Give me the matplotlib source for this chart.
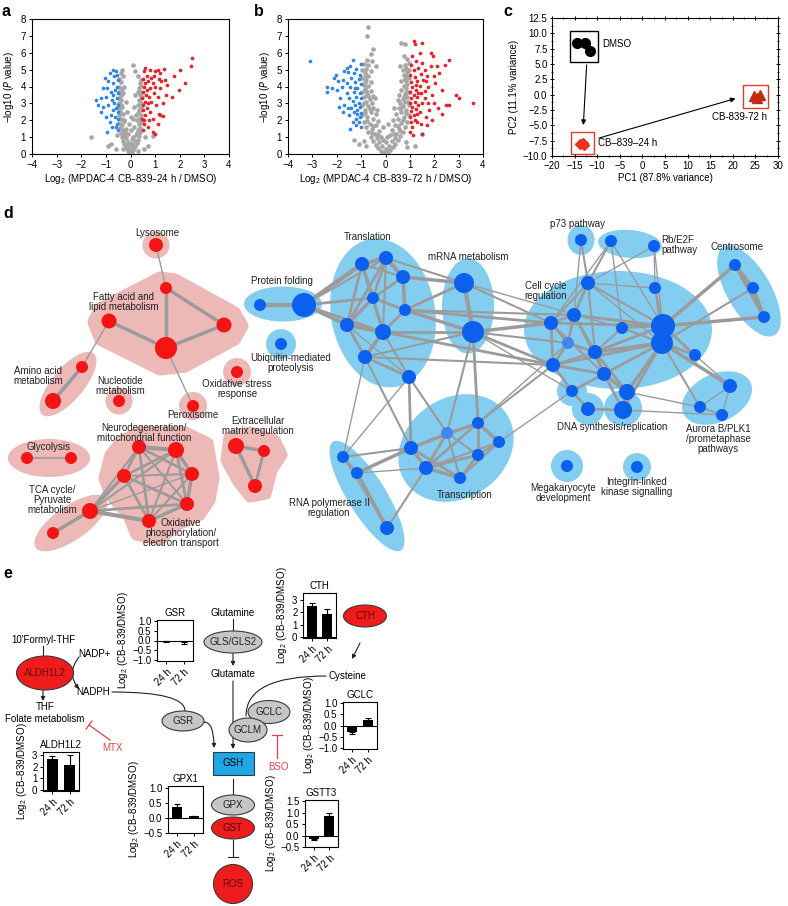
import numpy as np
import matplotlib
matplotlib.use('Agg')
import matplotlib.pyplot as plt
from matplotlib.patches import Ellipse, Circle, Polygon, Rectangle, FancyArrowPatch
from matplotlib.ticker import AutoMinorLocator

plt.rcParams['font.family'] = ['Liberation Sans', 'DejaVu Sans']
plt.rcParams['font.size'] = 7
plt.rcParams['axes.linewidth'] = 0.8
plt.rcParams['mathtext.default'] = 'regular'
plt.rcParams['xtick.major.size'] = 2.5
plt.rcParams['ytick.major.size'] = 2.5
plt.rcParams['xtick.major.width'] = 0.7
plt.rcParams['ytick.major.width'] = 0.7

### Data: volcano plots (log2 fold change, -log10 P) ###
a_gray = [(0, 0.05), (-0.05, 0.1), (0.05, 0.15), (-0.1, 0.2), (0.1, 0.25), (-0.15, 0.3), (0.15, 0.35), (0, 0.3),
          (-0.2, 0.45), (0.2, 0.5), (-0.05, 0.5), (0.08, 0.6), (-0.25, 0.6), (0.25, 0.65), (-0.12, 0.7), (0.18, 0.8),
          (-0.3, 0.8), (0.3, 0.85), (-0.2, 0.95), (0.05, 0.9), (-0.35, 1.0), (0.35, 1.05), (-0.25, 1.15), (0.22, 1.15),
          (-0.4, 1.25), (0.38, 1.3), (-0.3, 1.4), (0.3, 1.4), (-0.42, 1.55), (0.4, 1.55), (-0.18, 1.5), (0.15, 1.6),
          (-0.35, 1.7), (0.33, 1.75), (-0.45, 1.85), (0.42, 1.9), (-0.28, 1.95), (0.25, 2.0), (-0.4, 2.1), (0.38, 2.15),
          (-0.45, 2.3), (0.44, 2.3), (-0.32, 2.35), (0.3, 2.45), (-0.42, 2.55), (0.4, 2.6), (-0.47, 2.75), (0.44, 2.75),
          (-0.35, 2.8), (0.32, 2.9), (-0.45, 3.0), (0.42, 3.05), (-0.38, 3.2), (0.36, 3.2), (-0.48, 3.3), (0.45, 3.35),
          (-0.4, 3.5), (0.4, 3.5), (-0.45, 3.7), (0.43, 3.7), (-0.35, 3.85), (0.35, 3.9), (-0.47, 4.0), (0.42, 4.05),
          (-0.4, 4.25), (0.38, 4.2), (-0.45, 4.45), (0.44, 4.4), (-0.3, 4.6), (0.3, 4.6), (-0.4, 4.8), (-0.35, 5.0),
          (0.1, 5.3), (0.2, 4.9), (-1.6, 1.0), (-0.8, 0.6), (0.7, 0.5), (-0.6, 0.3), (0.55, 0.3), (0.6, 1.0),
          (-0.55, 1.1), (0.9, 1.05), (-0.9, 0.5), (0, 0.6), (0.12, 1.0), (-0.1, 1.2), (0.02, 1.4), (-0.08, 1.8),
          (0.1, 2.1), (-0.15, 2.5), (0.15, 2.8), (-0.2, 3.1), (0.2, 3.5), (-0.25, 4.0), (0.0, 2.2), (0.05, 0.0),
          (-0.02, 0.2), (0.1, 0.4), (-0.1, 0.45), (-0.3, 0.3), (0.3, 0.2), (-0.22, 1.3), (0.28, 1.25), (-0.38, 2.9),
          (0.36, 2.6), (-0.3, 3.6), (0.3, 3.7), (-0.25, 2.0), (0.22, 2.3)]
a_red = [(0.5, 1.4), (0.55, 1.8), (0.48, 2.1), (0.6, 2.3), (0.52, 2.6), (0.65, 2.7), (0.5, 2.9), (0.58, 3.1),
         (0.7, 3.0), (0.48, 3.3), (0.62, 3.5), (0.75, 3.4), (0.5, 3.7), (0.68, 3.8), (0.55, 4.0), (0.8, 3.9),
         (0.6, 4.2), (0.72, 4.3), (0.5, 4.45), (0.85, 4.5), (0.65, 4.6), (0.9, 4.2), (0.78, 2.5), (0.85, 3.1),
         (0.95, 3.6), (1.0, 4.0), (0.9, 2.1), (1.05, 2.9), (1.1, 3.4), (1.2, 3.9), (0.7, 1.6), (0.9, 1.3),
         (1.15, 2.4), (1.2, 2.3), (1.3, 2.25), (1.3, 3.0), (1.45, 3.5), (1.0, 4.9), (1.1, 5.0), (1.2, 4.8),
         (1.25, 4.3), (1.35, 5.05), (0.8, 5.0), (0.6, 5.1), (0.55, 4.9), (1.4, 4.4), (1.5, 4.1), (1.75, 4.65),
         (1.95, 3.8), (2.0, 5.0), (2.2, 4.2), (2.45, 5.2), (2.5, 5.7), (1.7, 3.4), (1.1, 1.8), (1.0, 1.2),
         (0.75, 2.0), (0.95, 4.6), (1.15, 4.45), (0.55, 2.0)]
a_blue = [(-0.5, 1.4), (-0.55, 1.8), (-0.5, 2.1), (-0.62, 2.2), (-0.5, 2.5), (-0.58, 2.7), (-0.7, 2.6), (-0.5, 2.9),
          (-0.65, 3.0), (-0.55, 3.3), (-0.75, 3.2), (-0.5, 3.6), (-0.62, 3.8), (-0.8, 3.7), (-0.55, 4.0), (-0.7, 4.2),
          (-0.5, 4.4), (-0.65, 4.6), (-0.85, 4.8), (-0.6, 4.9), (-0.9, 4.3), (-0.8, 2.3), (-0.9, 2.9), (-1.0, 3.4),
          (-1.1, 3.9), (-0.85, 1.9), (-1.0, 2.2), (-1.1, 2.8), (-1.2, 3.3), (-1.4, 3.2), (-1.05, 4.5), (-0.75, 1.6),
          (-0.95, 1.3), (-0.6, 1.6), (-1.2, 2.5), (-0.7, 3.5), (-0.95, 3.9), (-0.55, 4.7), (-0.72, 4.95), (-1.3, 2.9)]

b_gray = [(0, 0.05), (-0.1, 0.1), (0.1, 0.12), (-0.2, 0.2), (0.2, 0.25), (0, 0.3), (-0.3, 0.35), (0.3, 0.4),
          (-0.15, 0.45), (0.15, 0.5), (-0.4, 0.55), (0.4, 0.6), (-0.25, 0.7), (0.28, 0.75), (-0.5, 0.8), (0.5, 0.85),
          (0, 0.7), (-0.35, 0.95), (0.38, 0.95), (-0.6, 1.0), (0.6, 1.05), (0.05, 1.0), (-0.1, 0.85),
          (-0.45, 1.2), (0.45, 1.2), (-0.7, 1.3), (0.7, 1.3), (-0.25, 1.35), (0.25, 1.4), (-0.55, 1.5), (0.55, 1.5),
          (-0.8, 1.6), (0.8, 1.6), (-0.4, 1.7), (0.4, 1.7), (-0.65, 1.8), (0.65, 1.85), (-0.9, 1.9), (0.9, 1.9),
          (-0.3, 1.95), (0.3, 2.0), (-0.1, 1.6), (0.1, 1.8),
          (-0.5, 2.1), (0.5, 2.1), (-0.75, 2.2), (0.75, 2.2), (-0.95, 2.3), (0.95, 2.3), (-0.4, 2.4), (0.45, 2.4),
          (-0.6, 2.5), (0.62, 2.5), (-0.85, 2.6), (0.85, 2.6), (-0.5, 2.75), (0.55, 2.75), (-0.7, 2.85), (0.72, 2.85),
          (-0.95, 2.9), (0.95, 2.9), (-0.35, 2.6), (0.35, 2.7),
          (-0.55, 3.05), (0.6, 3.05), (-0.8, 3.1), (0.8, 3.1), (-0.65, 3.25), (0.7, 3.25), (-0.9, 3.35), (0.9, 3.35),
          (-0.5, 3.45), (0.55, 3.5), (-0.75, 3.55), (0.78, 3.55), (-0.95, 3.65), (0.95, 3.65), (-0.6, 3.75), (0.65, 3.8),
          (-0.85, 3.85), (0.85, 3.9), (-0.45, 3.3), (0.5, 3.2),
          (-0.7, 4.05), (0.75, 4.05), (-0.9, 4.1), (0.9, 4.15), (-0.6, 4.25), (0.65, 4.3), (-0.8, 4.4), (0.82, 4.45),
          (-0.95, 4.5), (0.95, 4.5), (-0.7, 4.65), (0.75, 4.7), (-0.85, 4.8), (0.88, 4.85), (-0.6, 4.9), (0.7, 4.95),
          (-0.8, 5.05), (0.85, 5.1), (-0.7, 5.3), (0.8, 5.3), (-0.9, 5.35), (0.95, 5.4), (-0.55, 5.5), (-0.75, 5.6),
          (0.9, 5.65), (-0.6, 5.9), (0.75, 5.8), (-0.5, 6.2), (0.65, 6.6), (0.8, 6.5), (-0.75, 7.0), (-0.7, 7.5),
          (-0.4, 5.2), (0.6, 5.2), (-0.9, 0.75), (0.85, 0.7), (1.5, 1.2), (-1.3, 0.85), (-1.1, 0.6), (1.2, 0.5),
          (-0.8, 0.5), (0.9, 0.4), (-0.2, 1.0), (0.2, 1.1), (-0.55, 1.25), (0.6, 1.35), (-0.75, 1.95), (0.7, 2.0),
          (-0.85, 2.45), (0.85, 2.45), (-0.65, 2.65), (0.65, 2.7), (-0.9, 3.05), (0.92, 3.1), (-0.7, 3.45),
          (0.75, 3.4), (-0.8, 3.75), (0.85, 3.7), (-0.85, 4.25), (0.85, 4.3), (-0.8, 4.6), (0.85, 4.65),
          (-0.95, 4.95), (0.95, 5.0), (-0.3, 1.15), (0.35, 1.2), (-0.5, 1.65), (0.5, 1.65)]
b_red = [(1.02, 1.3), (1.1, 1.6), (1.05, 1.9), (1.2, 2.0), (1.0, 2.2), (1.15, 2.3), (1.3, 2.4), (1.05, 2.55),
         (1.25, 2.65), (1.4, 2.5), (1.1, 2.8), (1.35, 2.9), (1.0, 3.0), (1.2, 3.1), (1.5, 3.0), (1.05, 3.3),
         (1.3, 3.35), (1.6, 3.3), (1.15, 3.5), (1.45, 3.6), (1.0, 3.7), (1.25, 3.8), (1.6, 3.75), (1.1, 4.0),
         (1.4, 4.05), (1.75, 4.0), (1.05, 4.25), (1.3, 4.3), (1.55, 4.4), (1.2, 4.55), (1.0, 4.7), (1.45, 4.75),
         (1.7, 4.6), (1.15, 4.95), (1.35, 5.1), (1.6, 5.0), (1.05, 5.3), (1.25, 5.5), (1.5, 5.4), (1.85, 5.2),
         (1.1, 5.8), (1.4, 6.0), (1.2, 6.5), (1.15, 6.7), (1.5, 6.6), (1.85, 6.0), (1.95, 5.8), (2.1, 5.2),
         (2.2, 4.8), (2.05, 4.2), (2.3, 3.8), (1.9, 3.5), (2.0, 3.0), (2.15, 2.7), (1.8, 2.6), (1.65, 2.2),
         (1.9, 2.0), (2.3, 2.4), (2.5, 2.9), (2.45, 5.3), (2.6, 5.6), (2.9, 3.5), (3.0, 3.3), (3.6, 3.0),
         (2.6, 2.9), (1.7, 1.7), (1.5, 1.2), (1.3, 1.9), (1.75, 3.0), (2.0, 4.6), (1.12, 1.1), (1.35, 3.6),
         (1.25, 4.1), (1.65, 4.3), (1.45, 1.8)]
b_blue = [(-1.02, 1.6), (-1.1, 1.9), (-1.05, 2.2), (-1.2, 2.1), (-1.0, 2.45), (-1.15, 2.6), (-1.3, 2.5), (-1.05, 2.8),
          (-1.25, 2.9), (-1.4, 2.75), (-1.1, 3.05), (-1.35, 3.15), (-1.0, 3.3), (-1.2, 3.4), (-1.5, 3.3), (-1.05, 3.6),
          (-1.3, 3.7), (-1.6, 3.6), (-1.15, 3.9), (-1.45, 4.0), (-1.0, 4.15), (-1.25, 4.25), (-1.6, 4.2), (-1.1, 4.45),
          (-1.4, 4.5), (-1.75, 4.4), (-1.05, 4.7), (-1.3, 4.8), (-1.55, 4.85), (-1.2, 5.05), (-1.45, 5.2), (-1.35, 5.55),
          (-1.0, 5.35), (-1.8, 4.0), (-1.95, 4.3), (-2.0, 3.8), (-1.85, 3.3), (-2.1, 4.5), (-2.2, 3.9), (-2.4, 4.0),
          (-2.4, 3.7), (-1.9, 2.8), (-1.7, 2.9), (-1.75, 2.5), (-1.5, 2.3), (-1.35, 1.9), (-1.45, 1.5), (-1.2, 1.7),
          (-3.1, 5.5), (-1.6, 5.1), (-1.7, 4.9), (-2.05, 4.7), (-1.15, 2.35), (-1.55, 2.7), (-1.25, 3.9)]

### Data: PCA ###
dmso_pc1 = [-14.4, -12.8, -11.7]
dmso_pc2 = [8.4, 8.4, 7.1]
h24_pc1 = [-13.7, -13.2, -12.9]
h24_pc2 = [-8.0, -7.8, -8.2]
h72_pc1 = [24.8, 26.1, 25.3]
h72_pc2 = [-0.2, 0.0, -0.5]

### Data: network (positions in figure pixels) ###
node_x = [156, 166, 109, 224, 166, 82, 53, 119, 237, 193, 236, 264, 255, 27, 71, 90, 53, 139, 176, 124, 192, 187, 149,
          260, 304, 281, 386, 362, 347, 383, 373, 365, 403, 405, 409, 464, 473,
          588, 655, 663, 662, 551, 574, 622, 568, 595, 695, 553, 604, 572, 627, 588, 623,
          581, 611, 654, 735, 753, 764, 730, 700, 722,
          478, 499, 478, 447, 411, 426, 460, 343, 357, 387, 567, 637]
node_y = [245, 288, 321, 325, 348, 367, 401, 401, 372, 406, 446, 451, 486, 458, 458, 511, 533, 447, 450, 476, 474, 504, 521,
          305, 305, 344, 258, 264, 325, 332, 298, 357, 277, 310, 377, 283, 332,
          283, 288, 326, 343, 323, 315, 328, 343, 352, 355, 365, 374, 391, 392, 409, 410,
          240, 241, 246, 265, 288, 317, 386, 407, 415,
          423, 442, 455, 433, 448, 468, 478, 457, 473, 528, 466, 467]
node_r = [7, 6, 7.5, 7.5, 11, 6, 8, 6, 6, 6, 8, 6, 7, 6, 6, 8, 6, 7, 8, 7, 7, 7, 7,
          6, 12, 6, 7, 7, 7, 8, 6, 7, 7, 6, 7, 10, 11,
          7, 6, 12, 11, 7, 7, 6, 6, 7, 6, 7, 7, 6, 8, 7, 9,
          6, 6, 6, 6, 6, 6, 7, 6, 6,
          6, 6, 6, 6, 7, 7, 6, 6, 6, 7, 6, 6]
node_group = ['up'] * 23 + ['down'] * 51
light_nodes = [44, 65]

edges = [(0, 1, 1), (1, 4, 2.5), (1, 3, 2.5), (2, 4, 2.5), (3, 4, 2.5), (2, 5, 1), (4, 9, 1), (5, 6, 2.5),
         (13, 14, 1.2), (15, 16, 2.5), (10, 11, 2.5), (10, 12, 2.5), (11, 12, 2),
         (17, 18, 3), (17, 19, 2), (17, 20, 2), (17, 21, 1.5), (17, 22, 2), (17, 15, 1.5), (18, 19, 2), (18, 20, 2.5),
         (18, 21, 2), (18, 22, 1.5), (18, 15, 1.5), (19, 20, 1.5), (19, 21, 2), (19, 22, 2), (19, 15, 2.5),
         (20, 21, 2.5), (20, 22, 1.5), (20, 15, 1), (21, 22, 2.5), (21, 15, 2), (22, 15, 3),
         (26, 27, 3), (26, 30, 2), (26, 32, 3), (26, 28, 2), (27, 30, 2.5), (27, 28, 2), (27, 29, 2), (28, 29, 3),
         (28, 30, 2.5), (28, 31, 2), (29, 30, 2), (29, 31, 2.5), (29, 33, 2), (30, 32, 2), (30, 33, 2), (31, 34, 2),
         (32, 33, 2.5), (26, 29, 1.5), (27, 32, 1.5), (29, 34, 1.5), (28, 34, 1),
         (23, 24, 3), (24, 27, 3), (24, 28, 2.5), (24, 30, 2), (24, 29, 2), (24, 26, 1.5),
         (32, 35, 2.5), (33, 35, 2), (29, 36, 2), (33, 36, 2.5), (26, 35, 1.5), (31, 36, 1.5), (35, 36, 3),
         (36, 41, 2.5), (36, 47, 2), (35, 41, 1.5), (33, 41, 2), (29, 47, 2), (31, 47, 1.5), (36, 44, 1.5),
         (33, 42, 1.5), (35, 43, 1), (36, 49, 1),
         (37, 38, 1), (37, 39, 1.5), (37, 41, 1.5), (37, 42, 2), (37, 45, 1.5), (37, 40, 1), (38, 39, 1.5),
         (38, 40, 1), (39, 40, 3), (39, 41, 2), (39, 42, 2), (39, 43, 1.5), (39, 45, 2), (39, 46, 2), (40, 45, 2.5),
         (40, 47, 2), (40, 48, 2), (40, 50, 2.5), (40, 52, 2), (40, 46, 2), (41, 42, 2), (41, 44, 2), (41, 47, 2),
         (42, 44, 2), (42, 45, 2), (43, 45, 1.5), (43, 40, 1.5), (44, 45, 2), (44, 47, 2), (45, 48, 2), (45, 50, 2),
         (47, 48, 2), (47, 49, 2), (48, 50, 2.5), (48, 49, 2), (49, 51, 2), (50, 52, 3), (51, 52, 2), (48, 52, 2),
         (45, 47, 1.5), (41, 48, 1.5), (42, 48, 1.5),
         (53, 37, 1.5), (53, 42, 1),
         (54, 37, 1.5), (54, 39, 1), (54, 43, 1), (55, 37, 1), (55, 38, 1), (55, 39, 1), (54, 41, 1),
         (56, 57, 2.5), (57, 58, 2.5), (56, 58, 2.5), (56, 39, 2.5), (58, 39, 2.5), (57, 40, 1.5),
         (59, 60, 1), (59, 61, 1), (60, 61, 1.5), (59, 40, 2.5), (60, 40, 1.5), (61, 52, 1), (59, 46, 1), (60, 50, 1),
         (62, 63, 2.5), (62, 64, 2), (62, 65, 1.5), (62, 66, 2), (62, 67, 2), (63, 64, 2), (63, 68, 1.5),
         (64, 65, 1.5), (64, 67, 2), (64, 68, 2), (65, 66, 2), (65, 67, 2), (65, 68, 1.5), (66, 67, 2.5),
         (66, 68, 2), (67, 68, 2.5), (63, 67, 1.5),
         (36, 62, 2), (36, 65, 1.5), (34, 66, 2), (34, 65, 1.5), (31, 66, 1.5),
         (62, 47, 1.5), (63, 49, 1), (62, 44, 1),
         (66, 70, 2.5), (67, 71, 1.5), (66, 69, 1.5), (67, 70, 1), (69, 70, 2), (70, 71, 2.5), (69, 71, 1),
         (31, 69, 1), (34, 69, 1)]

# cluster ellipses: (cx, cy, width, height, angle, group)
cluster_ellipses = [(156, 245, 27, 27, 0, 'up'), (68, 384, 80, 32, -50, 'up'), (119, 401, 27, 27, 0, 'up'),
                    (237, 372, 28, 28, 0, 'up'), (193, 406, 28, 28, 0, 'up'), (49, 458, 82, 38, 0, 'up'),
                    (71, 523, 86, 34, -35, 'up'),
                    (283, 304, 78, 35, 0, 'down'), (281, 344, 30, 30, 0, 'down'), (383, 313, 104, 150, -10, 'down'),
                    (468, 306, 52, 95, 0, 'down'), (618, 330, 188, 118, 0, 'down'), (572, 391, 30, 30, 0, 'down'),
                    (588, 409, 32, 32, 0, 'down'), (623, 408, 38, 36, 0, 'down'), (581, 240, 27, 30, 0, 'down'),
                    (630, 244, 64, 28, 5, 'down'), (749, 291, 102, 44, 60, 'down'), (717, 398, 74, 48, -25, 'down'),
                    (456, 448, 122, 100, -35, 'down'), (367, 496, 128, 38, 58, 'down'), (567, 466, 32, 32, 0, 'down'),
                    (637, 467, 28, 28, 0, 'down')]
cluster_blobs = [
    [(160, 277), (175, 279), (235, 312), (243, 326), (235, 340), (185, 367), (160, 370), (100, 340), (93, 322), (100, 308)],
    [(229, 437), (250, 432), (275, 440), (282, 455), (272, 470), (266, 494), (250, 497), (238, 482), (226, 460)],
    [(122, 440), (140, 432), (185, 432), (208, 443), (214, 478), (210, 500), (200, 515), (176, 526), (160, 540),
     (136, 535), (128, 515), (110, 495), (104, 478), (110, 455)]]

net_labels = [("Lysosome", 157, 233), ("Fatty acid and\nlipid metabolism", 124, 302),
              ("Amino acid\nmetabolism", 38, 376), ("Nucleotide\nmetabolism", 120, 386),
              ("Oxidative stress\nresponse", 237, 389), ("Peroxisome", 193, 415),
              ("Neurodegeneration/\nmitochondrial function", 144, 433), ("Extracellular\nmatrix regulation", 258, 426),
              ("Glycolysis", 49, 447), ("TCA cycle/\nPyruvate\nmetabolism", 52, 500),
              ("Oxidative\nphosphorylation/\nelectron transport", 181, 533),
              ("Protein folding", 282, 281), ("Ubiquitin-mediated\nproteolysis", 291, 363), ("Translation", 368, 237),
              ("mRNA metabolism", 468, 257), ("Cell cycle\nregulation", 546, 291), ("p73 pathway", 578, 224),
              ("Centrosome", 737, 247), ("DNA synthesis/replication", 612, 427),
              ("Aurora B/PLK1\n/prometaphase\npathways", 718, 439), ("Transcription", 465, 495),
              ("RNA polymerase II\nregulation", 329, 508), ("Megakaryocyte\ndevelopment", 563, 493),
              ("Integrin-linked\nkinase signalling", 637, 487)]

### Data: bar charts in panel e ###
conditions = ['24 h', '72 h']
gsr_vals, gsr_err = [-0.05, -0.1], [0.03, 0.06]
cth_vals, cth_err = [2.55, 1.85], [0.2, 0.4]
aldh_vals, aldh_err = [2.7, 2.2], [0.25, 0.8]
gclc_vals, gclc_err = [-0.3, 0.25], [0.06, 0.1]
gpx1_vals, gpx1_err = [0.35, 0.05], [0.1, 0.02]
gstt3_vals, gstt3_err = [-0.15, 0.85], [0.05, 0.15]

W, H = 788, 906
fig = plt.figure(figsize=(W / 100, H / 100), dpi=100)


def px_axes(x0, y0, x1, y1):
    return fig.add_axes([x0 / W, 1 - y1 / H, (x1 - x0) / W, (y1 - y0) / H])


# full-figure canvas in pixel coordinates
cv = fig.add_axes([0, 0, 1, 1])
cv.set_xlim(0, W)
cv.set_ylim(H, 0)
cv.axis('off')

for lab, x, y in [('a', 2, 12), ('b', 254, 12), ('c', 503, 12), ('d', 3, 214), ('e', 3, 574)]:
    cv.text(x, y, lab, fontsize=11.5, fontweight='bold', va='center', ha='left')

### Panels a, b ###
def volcano(ax, gray, blue, red, xlabel):
    for pts, c, s in ((gray, '#a6a6a6', 11), (blue, '#2f86e6', 7), (red, '#e8232b', 7)):
        p = np.array(pts)
        ax.scatter(p[:, 0], p[:, 1], s=s, c=c, lw=0)
    ax.set_xlim(-4, 4)
    ax.set_ylim(0, 8)
    ax.set_xticks(range(-4, 5))
    ax.set_yticks(range(0, 9))
    ax.set_xlabel(xlabel, labelpad=1)
    ax.set_ylabel(r'$-$log10 ($\mathit{P}$ value)', labelpad=3)
    ax.tick_params(length=2.5, pad=2)


ax_a = px_axes(32, 19, 229, 154)
volcano(ax_a, a_gray, a_blue, a_red, 'Log$_2$ (MPDAC-4 CB–839–24 h / DMSO)')
ax_b = px_axes(288, 19, 483, 154)
volcano(ax_b, b_gray, b_blue, b_red, 'Log$_2$ (MPDAC-4 CB–839–72 h / DMSO)')

### Panel c ###
ax_c = px_axes(552, 18, 778, 156)
ax_c.plot(dmso_pc1, dmso_pc2, 'o', color='k', ms=7, mec='k')
ax_c.plot(h24_pc1, h24_pc2, 'D', color='#e8341c', ms=5.5)
ax_c.plot(h72_pc1, h72_pc2, '^', color='#c22a12', ms=7)
ax_c.add_patch(Rectangle((-16, 5.4), 6.2, 4.9, fill=False, ec='k', lw=1))
ax_c.add_patch(Rectangle((-15.7, -9.6), 5.1, 3.5, fill=False, ec='#e23c2c', lw=1))
ax_c.add_patch(Rectangle((22.3, -2.1), 5.5, 3.6, fill=False, ec='#e23c2c', lw=1))
ax_c.annotate('', xy=(-13.1, -5.4), xytext=(-12.3, 5.3),
              arrowprops=dict(arrowstyle='-|>', color='k', lw=0.8, mutation_scale=7))
ax_c.annotate('', xy=(21.2, -0.5), xytext=(-10.2, -7.2),
              arrowprops=dict(arrowstyle='-|>', color='k', lw=0.8, mutation_scale=7))
ax_c.text(-8.8, 8.2, 'DMSO', va='center')
ax_c.text(-9.8, -7.8, 'CB–839–24 h', va='center')
ax_c.text(15.5, -3.6, 'CB-839-72 h', va='center')
ax_c.set_xlim(-20, 30)
ax_c.set_ylim(-10, 12.5)
ax_c.set_xticks(range(-20, 31, 5))
ax_c.set_yticks(np.arange(-10, 12.6, 2.5))
ax_c.xaxis.set_minor_locator(AutoMinorLocator(2))
ax_c.yaxis.set_minor_locator(AutoMinorLocator(2))
ax_c.tick_params(which='both', top=True, right=True, direction='inout', pad=2)
ax_c.tick_params(which='minor', length=2)
ax_c.set_xlabel('PC1 (87.8% variance)', labelpad=2)
ax_c.set_ylabel('PC2 (11.1% variance)', labelpad=3)

### Panel d: network ###
fill = {'up': '#ecb9b7', 'down': '#83cdf1'}
node_col = {'up': '#f51414', 'down': '#0b60ee'}
for cx, cy, w, h, ang, g in cluster_ellipses:
    cv.add_patch(Ellipse((cx, cy), w, h, angle=ang, fc=fill[g], ec='none', zorder=1))
for poly in cluster_blobs:
    cv.add_patch(Polygon(poly, closed=True, fc=fill['up'], ec=fill['up'], lw=8, joinstyle='round', zorder=1))
for i, j, w in edges:
    cv.plot([node_x[i], node_x[j]], [node_y[i], node_y[j]], color='#9b9b9b', lw=w, solid_capstyle='round', zorder=2)
for k in range(len(node_x)):
    c = '#4287ef' if k in light_nodes else node_col[node_group[k]]
    cv.add_patch(Circle((node_x[k], node_y[k]), node_r[k], fc=c, ec='none', zorder=3))
for txt, x, y in net_labels:
    cv.text(x, y, txt, ha='center', va='center', fontsize=7, linespacing=1.0, zorder=4, color='#222222')
cv.text(661, 245, 'Rb/E2F\npathway', ha='left', va='center', fontsize=7, linespacing=1.0, zorder=4, color='#222222')

### Panel e: pathway diagram ###
red_fc, gray_fc = '#ee1c1c', '#c6c6c6'


def node_ell(x, y, w, h, txt, fc, tc='#222222'):
    cv.add_patch(Ellipse((x, y), w, h, fc=fc, ec='#3a3a3a', lw=0.8, zorder=3))
    cv.text(x, y, txt, ha='center', va='center', fontsize=7, color=tc, zorder=4)


def arrow(p0, p1, style='-|>', conn='arc3', color='#222222'):
    cv.add_patch(FancyArrowPatch(p0, p1, arrowstyle=style, connectionstyle=conn, mutation_scale=6,
                                 lw=0.8, color=color, shrinkA=0, shrinkB=0, zorder=2))


def tbar(p0, p1, color='#e8414a'):
    cv.plot([p0[0], p1[0]], [p0[1], p1[1]], color=color, lw=0.9, zorder=2)
    d = np.array(p1, float) - np.array(p0, float)
    n = np.array([-d[1], d[0]]) / np.hypot(*d) * 5
    cv.plot([p1[0] - n[0], p1[0] + n[0]], [p1[1] - n[1], p1[1] + n[1]], color=color, lw=0.9, zorder=2)


cv.text(43, 640, "10'Formyl-THF", ha='center', va='center')
cv.plot([43, 43], [646, 656], color='#222222', lw=0.8)
node_ell(45, 673, 57, 34, 'ALDH1L2', red_fc, '#6e0606')
arrow((43, 690), (43, 701))
cv.text(45, 707, 'THF', ha='center', va='center')
cv.text(45, 719, 'Folate metabolism', ha='center', va='center')
cv.text(78, 654, 'NADP+', ha='left', va='center')
cv.text(76, 692, 'NADPH', ha='left', va='center')
arrow((79, 657), (79, 689), conn='arc3,rad=0.4')
arrow((112, 692), (185, 711), style='-', conn='angle3,angleA=0,angleB=90')
node_ell(183, 721, 42, 20, 'GSR', gray_fc)
arrow((204, 722), (214, 748), conn='angle3,angleA=0,angleB=90')
tbar((110, 740), (89, 725))
cv.text(112, 748, 'MTX', ha='center', va='center', color='#e8414a')

cv.text(233, 613, 'Glutamine', ha='center', va='center')
cv.plot([233, 233], [619, 631], color='#222222', lw=0.8)
node_ell(233, 642, 58, 22, 'GLS/GLS2', gray_fc)
arrow((233, 653), (233, 666))
cv.text(233, 674, 'Glutamate', ha='center', va='center')
arrow((233, 681), (233, 749))
cv.text(347, 676, 'Cysteine', ha='center', va='center')
arrow((326, 676), (246, 716), style='-', conn='angle3,angleA=0,angleB=90')
node_ell(269, 712, 42, 23, 'GCLC', gray_fc)
node_ell(248, 730, 38, 24, 'GCLM', gray_fc)
tbar((277, 758), (277, 735))
cv.text(279, 767, 'BSO', ha='center', va='center', color='#e8414a')
node_ell(365, 616, 43, 22, 'CTH', red_fc, '#6e0606')
arrow((360, 643), (352, 659))

cv.add_patch(Rectangle((213, 752), 41, 23, fc='#1ea6e6', ec='#2a3a4a', lw=0.8, zorder=3))
cv.text(233.5, 763.5, 'GSH', ha='center', va='center', zorder=4)
cv.plot([233, 233], [779, 795], color='#222222', lw=0.8)
node_ell(233, 805, 43, 20, 'GPX', gray_fc)
node_ell(233, 828, 43, 22, 'GST', red_fc, '#4a0505')
cv.plot([233, 233], [840, 857], color='#222222', lw=0.8)
cv.plot([228, 238], [857, 857], color='#222222', lw=0.8)
cv.add_patch(Circle((233, 884), 19.5, fc=red_fc, ec='#3a3a3a', lw=0.8, zorder=3))
cv.text(233, 884, 'ROS', ha='center', va='center', color='#6e0606', zorder=4)


def bar_inset(box, title, vals, errs, ylim, yticks, ticklabels):
    ax = px_axes(*box)
    x = np.arange(len(vals))
    ax.bar(x, vals, width=0.62, color='k')
    for xi, v, e in zip(x, vals, errs):
        yerr = [[0], [e]] if v >= 0 else [[e], [0]]
        ax.errorbar(xi, v, yerr=yerr, color='k', capsize=2, lw=0.8, capthick=0.8)
    ax.axhline(0, color='k', lw=0.8)
    ax.set_xlim(-0.55, 1.55)
    ax.set_ylim(ylim)
    ax.set_yticks(yticks)
    ax.set_yticklabels(ticklabels)
    ax.set_xticks(x)
    ax.set_xticklabels(conditions, rotation=45, ha='right', rotation_mode='anchor')
    ax.tick_params(length=2.5, pad=1.5)
    ax.set_title(title, fontsize=7, pad=3)
    ax.set_ylabel('Log$_2$ (CB–839/DMSO)', labelpad=2)
    return ax


one = [-1, -0.5, 0, 0.5, 1]
one_lab = ['−1.0', '−0.5', '0.0', '0.5', '1.0']
bar_inset((157, 620, 193, 661), 'GSR', gsr_vals, gsr_err, (-1.05, 1.05), one, one_lab)
bar_inset((303, 593, 336, 638), 'CTH', cth_vals, cth_err, (-0.1, 3.6), [0, 1, 2, 3], ['0', '1', '2', '3'])
bar_inset((43, 752, 79, 791), 'ALDH1L2', aldh_vals, aldh_err, (-0.1, 3.3), [0, 1, 2, 3], ['0', '1', '2', '3'])
bar_inset((343, 702, 377, 749), 'GCLC', gclc_vals, gclc_err, (-1.05, 1.05), one, one_lab)
bar_inset((168, 786, 203, 833), 'GPX1', gpx1_vals, gpx1_err, (-0.5, 1.05), [-0.5, 0, 0.5, 1],
          ['−0.5', '0.0', '0.5', '1.0'])
bar_inset((305, 800, 338, 847), 'GSTT3', gstt3_vals, gstt3_err, (-0.5, 1.55), [-0.5, 0, 0.5, 1, 1.5],
          ['−0.5', '0.0', '0.5', '1.0', '1.5'])

fig.savefig('out.png', dpi=100)
